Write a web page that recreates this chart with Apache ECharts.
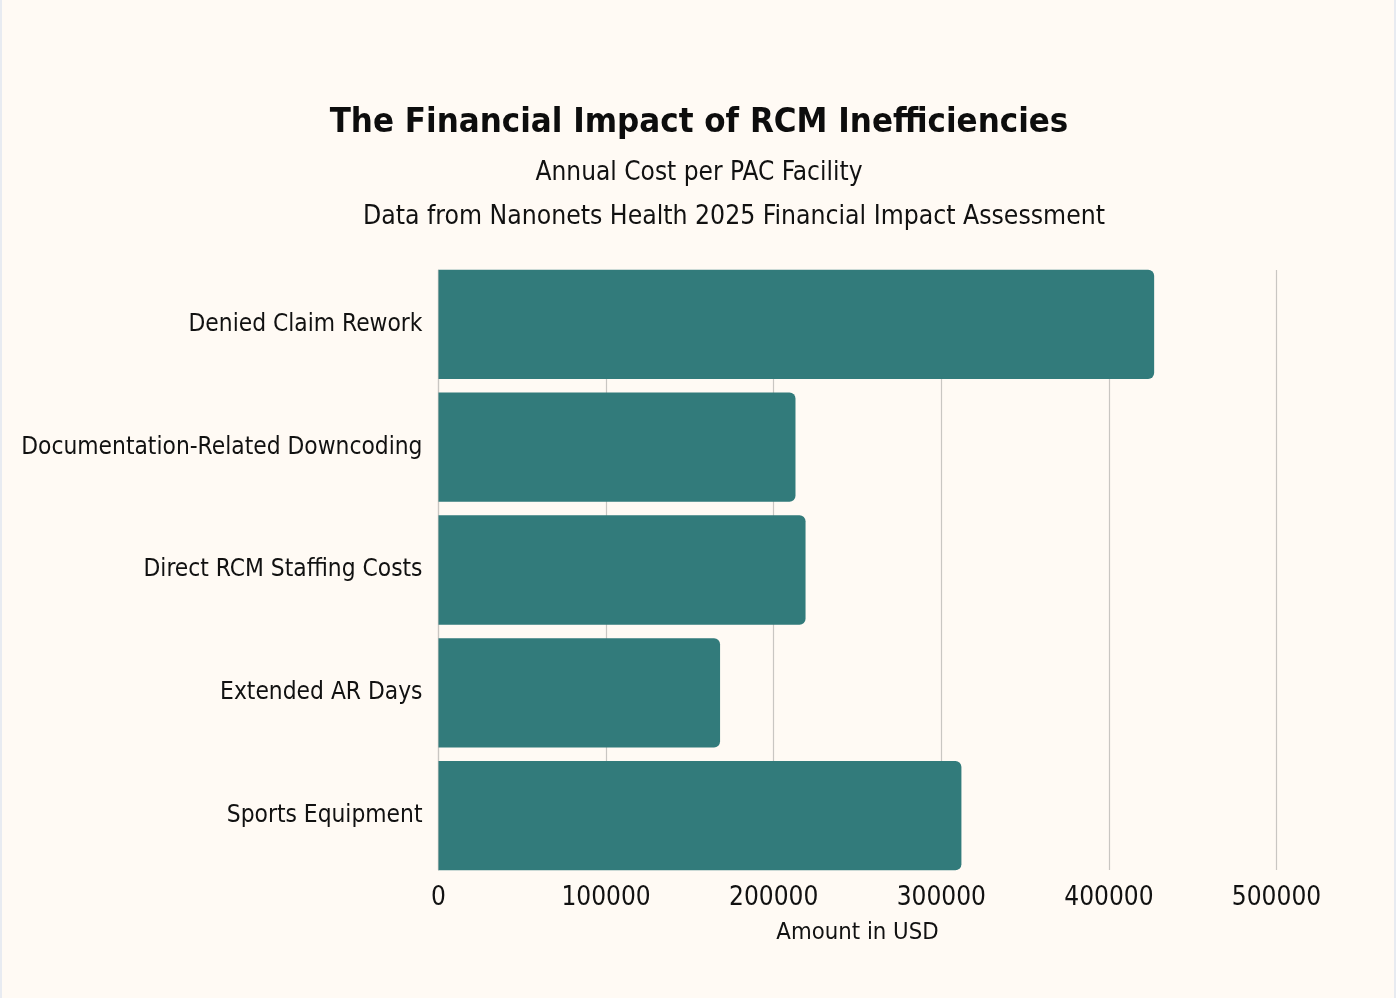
<!DOCTYPE html>
<html>
<head>
<meta charset="utf-8">
<script src="https://cdn.jsdelivr.net/npm/echarts@6/dist/echarts.min.js"></script>
<style>
html,body{margin:0;padding:0;background:#e8ebf1;}
#chart{position:absolute;left:2px;top:0;width:1392px;height:998px;background:#fffaf4;}
</style>
</head>
<body>
<div id="chart"></div>
<script>
var categories = ["Denied Claim Rework","Documentation-Related Downcoding","Direct RCM Staffing Costs","Extended AR Days","Sports Equipment"];
var values = [427000, 213000, 219000, 168000, 312000];
var xTicks = [0, 100000, 200000, 300000, 400000, 500000];

var FONT = "'DejaVu Sans Condensed', 'Liberation Sans Narrow', Roboto, sans-serif";
var chart = echarts.init(document.getElementById('chart'), null, {renderer:'canvas'});
chart.setOption({
  backgroundColor: '#fffaf4',
  animation: false,
  title: [
    {text: 'The Financial Impact of RCM Inefficiencies', left: 692, top: 101, textAlign: 'center',
     textStyle: {fontFamily: FONT, fontWeight: 'bold', fontSize: 34.5, color: '#0d0d0d'}},
    {text: 'Annual Cost per PAC Facility', left: 692, top: 155, textAlign: 'center',
     textStyle: {fontFamily: FONT, fontWeight: 'normal', fontSize: 26, color: '#111'}},
    {text: 'Data from Nanonets Health 2025 Financial Impact Assessment', left: 727, top: 199, textAlign: 'center',
     textStyle: {fontFamily: FONT, fontWeight: 'normal', fontSize: 26.3, color: '#111'}}
  ],
  grid: [
    {left: 436.5, right: 117.5, top: 263, bottom: 121, containLabel: false},
    {left: 436.5, right: 117.5, top: 270, bottom: 128, containLabel: false}
  ],
  xAxis: [{
    gridIndex: 0, type: 'value', min: 0, max: 500000, interval: 100000,
    name: 'Amount in USD', nameLocation: 'middle', nameGap: 44,
    nameTextStyle: {fontFamily: FONT, fontSize: 23.7, color: '#111'},
    axisLine: {show: false}, axisTick: {show: false},
    axisLabel: {fontFamily: FONT, fontSize: 26, color: '#111', margin: 8,
      formatter: function(v){ return xTicks.indexOf(v) >= 0 ? String(v) : ''; }},
    splitLine: {show: false}
  }, {
    gridIndex: 1, type: 'value', min: 0, max: 500000, interval: 100000,
    axisLine: {show: false}, axisTick: {show: false}, axisLabel: {show: false},
    splitLine: {show: true, lineStyle: {color: '#c9c6c2', width: 1.2}}
  }],
  yAxis: [{
    gridIndex: 0, type: 'category', data: categories, inverse: true,
    axisLine: {show: false},
    axisTick: {show: false},
    axisLabel: {fontFamily: FONT, fontSize: 24.3, color: '#111', margin: 16}
  }, {
    gridIndex: 1, type: 'value', min: 0, max: 1,
    axisLine: {show: true, lineStyle: {color: '#c9c6c2', width: 1.2}},
    axisTick: {show: false}, axisLabel: {show: false}, splitLine: {show: false}
  }],
  series: [{
    type: 'bar', xAxisIndex: 0, yAxisIndex: 0, data: values, barCategoryGap: '11%', z: 3,
    itemStyle: {color: '#327b7b', borderRadius: [0, 6, 6, 0]}
  }, {
    type: 'line', xAxisIndex: 1, yAxisIndex: 1, data: [], silent: true
  }]
});
</script>
</body>
</html>
